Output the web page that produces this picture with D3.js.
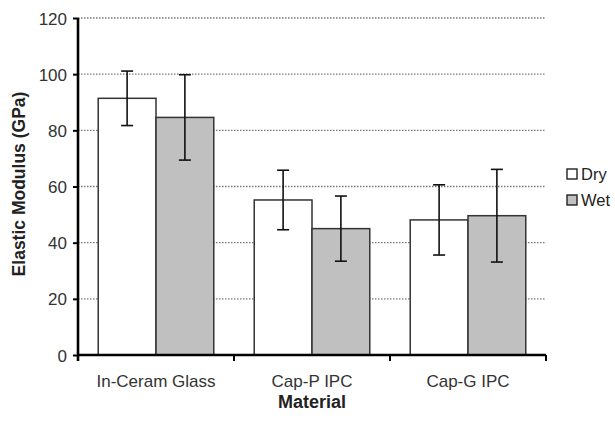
<!DOCTYPE html>
<html>
<head>
<meta charset="utf-8">
<script src="https://cdn.jsdelivr.net/npm/d3@7"></script>
<style>
body { margin: 0; background: #fff; }
text { font-family: "Liberation Sans", Arial, sans-serif; }
</style>
</head>
<body>
<svg width="615" height="421"></svg>
<script>
// data
var materials = ["In-Ceram Glass", "Cap-P IPC", "Cap-G IPC"];
var conditions = ["Dry", "Wet"];
var dryMean = [91.4, 55.2, 48.1];
var dryErr = [9.7, 10.6, 12.5];
var wetMean = [84.6, 45.0, 49.6];
var wetErr = [15.2, 11.6, 16.5];
var yTicks = [0, 20, 40, 60, 80, 100, 120];
var fills = ["#ffffff", "#c0c0c0"];

var svg = d3.select("svg");
var margin = {left: 78, right: 69, top: 18, bottom: 66};
var x0 = margin.left, x1 = 615 - margin.right;
var yTop = margin.top, yBot = 421 - margin.bottom;

var x = d3.scaleBand().domain(materials).range([x0, x1]).paddingInner(0).paddingOuter(0);
var xs = d3.scaleBand().domain(conditions).range([0, x.bandwidth()]).paddingInner(0).paddingOuter(0.35);
var y = d3.scaleLinear().domain([0, 120]).range([yBot, yTop]);

// gridlines
svg.append("g").selectAll("line")
    .data(yTicks.slice(1))
    .enter().append("line")
    .attr("x1", x0).attr("x2", x1)
    .attr("y1", function (d) { return y(d); })
    .attr("y2", function (d) { return y(d); })
    .attr("stroke", "#777")
    .attr("stroke-width", 1.3)
    .attr("stroke-dasharray", "1.5,1.5");

var rows = [];
materials.forEach(function (m, i) {
    rows.push({m: m, c: "Dry", v: dryMean[i], e: dryErr[i]});
    rows.push({m: m, c: "Wet", v: wetMean[i], e: wetErr[i]});
});

// bars
svg.append("g").selectAll("rect")
    .data(rows)
    .enter().append("rect")
    .attr("x", function (d) { return x(d.m) + xs(d.c); })
    .attr("y", function (d) { return y(d.v); })
    .attr("width", xs.bandwidth())
    .attr("height", function (d) { return yBot - y(d.v); })
    .attr("fill", function (d) { return fills[conditions.indexOf(d.c)]; })
    .attr("stroke", "#333")
    .attr("stroke-width", 1.5);

// error bars
var eb = svg.append("g").attr("stroke", "#111").attr("stroke-width", 1.6);
rows.forEach(function (d) {
    var cx = x(d.m) + xs(d.c) + xs.bandwidth() / 2;
    eb.append("line").attr("x1", cx).attr("x2", cx).attr("y1", y(d.v + d.e)).attr("y2", y(d.v - d.e));
    eb.append("line").attr("x1", cx - 6).attr("x2", cx + 6).attr("y1", y(d.v + d.e)).attr("y2", y(d.v + d.e));
    eb.append("line").attr("x1", cx - 6).attr("x2", cx + 6).attr("y1", y(d.v - d.e)).attr("y2", y(d.v - d.e));
});

// y axis
var yAxis = svg.append("g")
    .attr("transform", "translate(" + x0 + ",0)")
    .call(d3.axisLeft(y).tickValues(yTicks).tickSize(5).tickPadding(6));
yAxis.select(".domain").attr("stroke", "#000").attr("stroke-width", 2.6).attr("d", "M0," + (yBot + 6) + "V" + yTop);
yAxis.selectAll(".tick line").attr("stroke", "#000").attr("stroke-width", 2);
yAxis.selectAll(".tick text").attr("font-size", 17).attr("fill", "#333").attr("dy", "0.36em");

// x axis
var xAxis = svg.append("g")
    .attr("transform", "translate(0," + yBot + ")")
    .call(d3.axisBottom(x).tickSize(0).tickPadding(20));
xAxis.select(".domain").attr("stroke", "#000").attr("stroke-width", 2.6).attr("d", "M" + x0 + ",0H" + x1);
xAxis.selectAll(".tick text").attr("font-size", 17).attr("fill", "#333");
svg.append("g").selectAll("line")
    .data(materials.slice(1).concat(["end"]))
    .enter().append("line")
    .attr("x1", function (d) { return d === "end" ? x1 : x(d); })
    .attr("x2", function (d) { return d === "end" ? x1 : x(d); })
    .attr("y1", yBot).attr("y2", yBot + 6)
    .attr("stroke", "#000").attr("stroke-width", 2);

// axis titles
svg.append("text")
    .attr("transform", "translate(25," + 184 + ") rotate(-90)")
    .attr("text-anchor", "middle")
    .attr("font-size", 17.5).attr("font-weight", "bold").attr("fill", "#222")
    .text("Elastic Modulus (GPa)");
svg.append("text")
    .attr("x", (x0 + x1) / 2).attr("y", 408)
    .attr("text-anchor", "middle")
    .attr("font-size", 18).attr("font-weight", "bold").attr("fill", "#222")
    .text("Material");

// legend
var lg = svg.append("g").attr("transform", "translate(567,169)");
conditions.forEach(function (c, i) {
    lg.append("rect").attr("x", 0).attr("y", i * 26).attr("width", 10).attr("height", 10)
        .attr("fill", fills[i]).attr("stroke", "#222").attr("stroke-width", 1.4);
    lg.append("text").attr("x", 14).attr("y", i * 26 + 11)
        .attr("font-size", 16.5).attr("fill", "#222")
        .style("font-family", "'Liberation Sans Narrow', 'Liberation Sans', sans-serif")
        .text(c);
});
</script>
</body>
</html>
